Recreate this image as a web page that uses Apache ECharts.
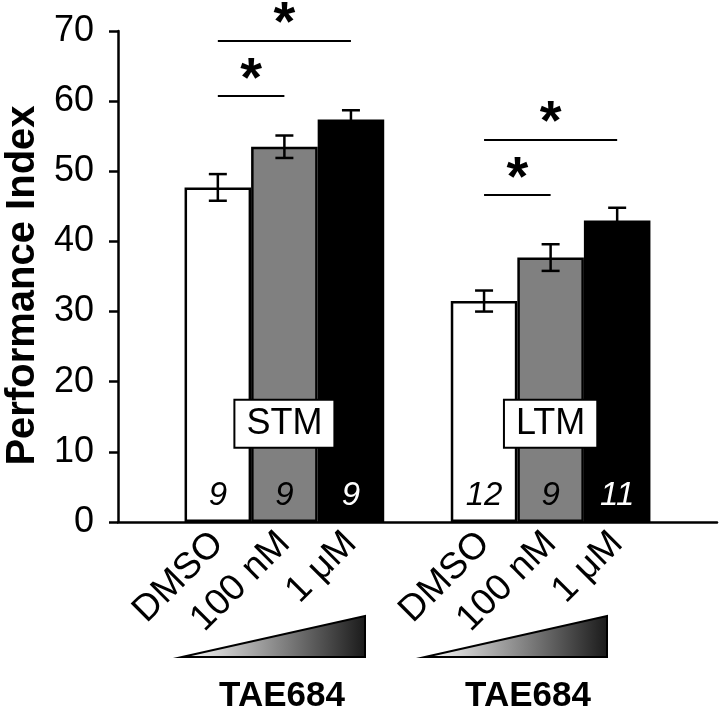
<!DOCTYPE html>
<html><head><meta charset="utf-8">
<script src="https://cdn.jsdelivr.net/npm/echarts@6/dist/echarts.min.js"></script>
<style>html,body{margin:0;padding:0;background:#fff}#c{width:720px;height:713px}</style>
</head><body><div id="c"></div>
<script>
// ---- data ----
const categories = ['', 'DMSO', '100 nM', '1 μM', '', 'DMSO', '100 nM', '1 μM', ''];
const groupNames = ['STM', 'LTM'];
const stmMeans = [47.7, 53.5, 57.4];
const stmErrors = [1.9, 1.6, 1.3];
const stmCounts = ['9', '9', '9'];
const ltmMeans = [31.5, 37.7, 43.0];
const ltmErrors = [1.5, 1.9, 1.8];
const ltmCounts = ['12', '9', '11'];
const yMin = 0, yMax = 70, yStep = 10;
const yTitle = 'Performance Index';
const drugName = 'TAE684';
// significance brackets: [from category index, to category index, y value]
const sigFrom = [1, 1, 5, 5];
const sigTo = [2, 3, 6, 7];
const sigY = [60.7, 68.6, 46.6, 54.5];
const sigText = ['*', '*', '*', '*'];
const groupLabelY = 14;

// ---- build ----
const FONT = '"Liberation Sans", Arial, Helvetica, sans-serif';
const fills = ['#ffffff', '#808080', '#000000'];
const labelColors = ['#000000', '#000000', '#ffffff'];
const groupIdx = [[1, 2, 3], [5, 6, 7]];
const means = [stmMeans, ltmMeans];
const errs = [stmErrors, ltmErrors];
const counts = [stmCounts, ltmCounts];

const barData = categories.map(() => '-');
const errData = [];
groupIdx.forEach((idxs, g) => {
  idxs.forEach((ci, k) => {
    barData[ci] = {
      value: means[g][k],
      itemStyle: { color: fills[k] },
      label: { formatter: counts[g][k], color: labelColors[k] }
    };
    errData.push([ci, means[g][k], errs[g][k]]);
  });
});

const chart = echarts.init(document.getElementById('c'), null, { renderer: 'canvas' });
chart.setOption({
  animation: false,
  backgroundColor: '#fff',
  textStyle: { fontFamily: FONT },
  grid: { left: 118, right: 3, top: 31, bottom: 191, containLabel: false, outerBoundsMode: 'none' },
  xAxis: {
    type: 'category',
    data: categories,
    axisLine: { lineStyle: { color: '#000', width: 2.5 } },
    axisTick: { show: false },
    axisLabel: { interval: 0, rotate: 45, fontSize: 37, color: '#000', margin: 16, fontFamily: FONT }
  },
  yAxis: {
    type: 'value', min: yMin, max: yMax, interval: yStep,
    name: yTitle, nameLocation: 'middle', nameGap: 69,
    nameTextStyle: { fontSize: 40, fontWeight: 'bold', color: '#000', fontFamily: FONT, padding: [0, 18, 0, 0] },
    axisLine: { show: true, lineStyle: { color: '#000', width: 2.5 } },
    axisTick: { show: true, length: 9, lineStyle: { color: '#000', width: 2.5 } },
    axisLabel: { fontSize: 36, color: '#000', margin: 24, fontFamily: FONT },
    splitLine: { show: false }
  },
  series: [
    {
      type: 'bar',
      data: barData,
      barWidth: '100%',
      itemStyle: { borderColor: '#000', borderWidth: 2.5 },
      label: { show: true, position: 'insideBottom', distance: 10, fontSize: 33, fontStyle: 'italic', fontFamily: FONT },
      emphasis: { disabled: true },
      markLine: {
        silent: true,
        symbol: ['none', 'none'],
        lineStyle: { color: '#000', width: 2, type: 'solid' },
        label: { show: true, position: 'middle', formatter: p => p.name, fontSize: 56, fontWeight: 'bold', color: '#000', distance: -12, fontFamily: FONT },
        emphasis: { disabled: true },
        data: sigFrom.map((f, i) => [
          { name: sigText[i], coord: [f, sigY[i]] },
          { coord: [sigTo[i], sigY[i]] }
        ])
      },
      markPoint: {
        silent: true,
        symbol: 'rect', symbolSize: 1,
        itemStyle: { color: 'rgba(0,0,0,0)' },
        label: {
          show: true, position: 'inside', formatter: p => p.name,
          fontSize: 36, color: '#000', backgroundColor: '#fff',
          borderColor: '#000', borderWidth: 2, padding: [6, 11, 4, 11], fontFamily: FONT
        },
        emphasis: { disabled: true },
        data: groupNames.map((g, i) => ({ name: g, coord: [groupIdx[i][1], groupLabelY] }))
      }
    },
    {
      type: 'custom',
      z: 5,
      silent: true,
      data: errData,
      renderItem: function (params, api) {
        const x = api.value(0), m = api.value(1), e = api.value(2);
        const t = api.coord([x, m + e]);
        const b = api.coord([x, m - e]);
        const hw = 9;
        const st = { stroke: '#000', lineWidth: 2.5 };
        return {
          type: 'group',
          children: [
            { type: 'line', shape: { x1: t[0], y1: t[1], x2: b[0], y2: b[1] }, style: st },
            { type: 'line', shape: { x1: t[0] - hw, y1: t[1], x2: t[0] + hw, y2: t[1] }, style: st },
            { type: 'line', shape: { x1: b[0] - hw, y1: b[1], x2: b[0] + hw, y2: b[1] }, style: st }
          ]
        };
      }
    }
  ],
  graphic: [
    { type: 'polygon', shape: { points: [[182, 657], [365, 616], [365, 657]] },
      style: { fill: new echarts.graphic.LinearGradient(0, 0, 1, 0, [{ offset: 0, color: '#ffffff' }, { offset: 1, color: '#1a1a1a' }]), stroke: '#000', lineWidth: 2 } },
    { type: 'polygon', shape: { points: [[425, 657], [607, 616], [607, 657]] },
      style: { fill: new echarts.graphic.LinearGradient(0, 0, 1, 0, [{ offset: 0, color: '#ffffff' }, { offset: 1, color: '#1a1a1a' }]), stroke: '#000', lineWidth: 2 } },
    { type: 'text', x: 282, y: 696, style: { text: drugName, font: 'bold 35px ' + FONT, fill: '#000', textAlign: 'center', textVerticalAlign: 'middle' } },
    { type: 'text', x: 528, y: 696, style: { text: drugName, font: 'bold 35px ' + FONT, fill: '#000', textAlign: 'center', textVerticalAlign: 'middle' } }
  ]
});
</script>
</body></html>
